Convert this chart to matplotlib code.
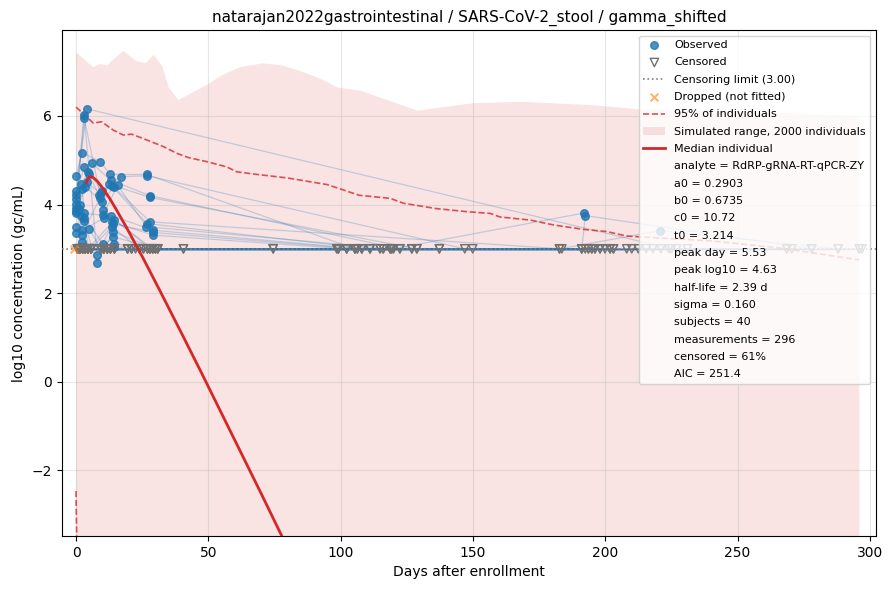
import numpy as np
import matplotlib
matplotlib.use("Agg")
import matplotlib.pyplot as plt

LOD = 3.0

# per-subject visits: day and log10 value (None = censored, drawn at the limit)
subj_days = [
    [0, 4.2, 225, 297],
    [0, 3.0, 8.0, 14.5, 99],
    [0, 3.1, 10.3, 28, 120, 192],
    [0, 2.3, 9.1, 13.0, 26.8, 105.4],
    [0, 3.1, 6.0, 13.2, 28, 122.4],
    [1.9, 4.6, 9.8, 17, 27, 146.9, 201.8],
    [0, 4.8, 8.8, 12.6, 28, 128.8, 193.6],
    [0, 4.0, 9.5, 13.5, 26.8, 111.1],
    [0, 3.5, 10.0, 14.2, 28, 183.6, 194.9],
    [0, 3.1, 10.3, 15.7, 26.6, 118.7],
    [0, 2.3, 10.4, 13.3, 29.2, 108],
    [1.0, 2.3, 9.0, 13.7, 29.2, 102.3, 198],
    [1.5, 3.1, 10.1, 14.0, 29.0, 106.3, 196.1],
    [2.0, 3.0, 7.9, 14.1, 30, 99.1],
    [2.3, 5.0, 9.4, 14.1, 30.9, 114.9],
    [2.3, 4.5, 10.5, 14.3, 27, 119.3, 203.1],
    [0.6, 3.5, 11.8, 14.5, 28, 137.3],
    [0.6, 5.7, 13.5, 24, 74.5, 149.9, 270.5],
    [1.5, 4.5, 14.5, 29, 126.9, 191.1, 192.5, 278],
    [0.6, 3.5, 9.4, 19.5, 40.6, 98.5, 182.7, 220.7, 288],
    [0.6, 5.7, 10.5, 21, 99.1, 191.1],
    [1.5, 4.5, 11.8, 24, 102.3, 192.4],
    [2.5, 5.7, 13, 25.5, 105.4, 193.6],
    [0.6, 3.5, 9.4, 27, 106.3, 194.9, 268.6],
    [1.5, 4.5, 10.5, 28, 108, 196.1],
    [2.5, 5.7, 11.8, 29, 111.1, 198, 296],
    [0.6, 3.5, 13, 30, 114.9, 199.9],
    [1.5, 4.5, 14.5, 30.9, 116.1, 201.8],
    [2.5, 5.7, 9.4, 19.5, 118.7, 203.1, 288],
    [0.6, 3.5, 10.5, 21, 119.3, 208.1],
    [1.5, 4.5, 11.8, 22.5, 122.4, 210],
    [2.5, 5.7, 13, 24, 126.9, 212.5],
    [0.6, 3.5, 14.5, 25.5, 128.8, 215.5, 278],
    [1.5, 4.5, 9.4, 27, 137.3, 218],
    [2.5, 5.7, 10.5, 28, 99.1, 221],
    [0.6, 3.5, 11.8, 29, 102.3, 224],
    [1.5, 4.5, 13, 30, 105.4, 227],
    [2.5, 5.7, 14.5, 30.9, 108, 231],
    [0.6, 3.5, 19.5, 40.6, 111.1, 182.7, 268.6],
    [1.5, 4.5, 21, 74.5, 116.1, 191.1, 296],
]
N = None
subj_vals = [
    [4.30, 6.16, N, N],
    [4.02, 6.03, 2.86, N, N],
    [3.85, 5.95, 3.88, N, N, 3.81],
    [4.64, 5.17, 4.97, 4.68, 4.68, N],
    [4.22, 4.85, 4.93, 4.55, 4.20, N],
    [4.46, 4.74, 4.30, 4.63, 4.65, N, N],
    [4.12, 4.68, 4.21, 4.46, 4.16, N, N],
    [3.93, 4.50, 4.25, 4.42, 3.57, N],
    [3.80, 4.40, 4.06, 4.40, 3.61, N, N],
    [3.50, 3.80, 3.76, 4.44, 3.50, N],
    [3.35, 3.42, 3.69, 3.75, 3.42, N],
    [3.90, 3.31, 4.15, 3.60, 3.31, N, N],
    [4.00, 3.70, 3.12, 3.57, 3.37, N, N],
    [3.75, 3.62, 2.67, 3.39, N, N],
    [3.16, 3.45, N, 3.27, N, N],
    [4.35, N, N, 3.12, N, N, N],
    [N, N, N, 3.05, N, N],
    [N, N, 3.50, N, N, N, N],
    [N, N, 3.65, N, N, N, 3.75, N],
    [N, N, N, N, N, N, N, 3.41, N],
    [N] * 6, [N] * 6, [N] * 6, [N] * 7, [N] * 6, [N] * 7, [N] * 6, [N] * 6,
    [N] * 7, [N] * 6, [N] * 6, [N] * 6, [N] * 7, [N] * 6, [N] * 6, [N] * 6,
    [N] * 6, [N] * 6, [N] * 7, [N] * 7,
]

dropped_day = [-0.7]
dropped_val = [3.0]

# simulated envelope (upper edge) and 95% band
sim_day = [0, 0.5, 6.5, 9, 12, 13.5, 18, 22.4, 26.2, 29.3, 32.6, 35, 38.7, 50, 55, 62,
           70.6, 78, 84.5, 92, 99, 107.6, 129, 150, 168.5, 196, 213, 250, 296]
sim_upper = [7.42, 7.42, 7.10, 7.17, 7.15, 7.25, 7.47, 7.25, 7.19, 7.38, 7.13, 6.65, 6.36,
             6.72, 6.92, 7.10, 7.19, 7.14, 7.02, 6.85, 6.64, 6.57, 6.12, 6.29, 6.32, 6.24,
             6.15, 6.10, 6.00]
sim_lower = [-40] * len(sim_day)

hi95_day = [0, 3.4, 6.5, 9.7, 14.1, 17.9, 21, 26.7, 33, 38, 42.5, 49.4, 57, 60.7, 67, 80,
            95, 101, 107, 118.7, 123.7, 136, 147.6, 156.5, 160.2, 171.6, 180.4, 191.7,
            200.6, 208, 213, 240, 266, 276, 296]
hi95_val = [6.20, 6.02, 5.84, 5.87, 5.68, 5.57, 5.59, 5.46, 5.31, 5.16, 5.06, 4.97, 4.85,
            4.74, 4.69, 4.60, 4.45, 4.33, 4.21, 4.14, 4.03, 3.91, 3.84, 3.80, 3.72, 3.65,
            3.54, 3.44, 3.39, 3.29, 3.27, 3.18, 3.02, 2.93, 2.75]
lo95_day = [0, 0.99, 5, 50, 296]
lo95_val = [-2.47, -6.5, -14.0, -40.0, -60.0]

med_day = [3.96, 4.5, 5.0, 5.53, 6.5, 8, 10, 12.6, 15, 19, 25, 32, 40, 48, 60, 70, 80]
med_val = [4.50, 4.59, 4.62, 4.63, 4.61, 4.53, 4.38, 4.15, 3.91, 3.49, 2.83, 2.02, 1.08,
           0.13, -1.32, -2.53, -3.76]

fit_info = [
    "analyte = RdRP-gRNA-RT-qPCR-ZY",
    "a0 = 0.2903",
    "b0 = 0.6735",
    "c0 = 10.72",
    "t0 = 3.214",
    "peak day = 5.53",
    "peak log10 = 4.63",
    "half-life = 2.39 d",
    "sigma = 0.160",
    "subjects = 40",
    "measurements = 296",
    "censored = 61%",
    "AIC = 251.4",
]

fig, ax = plt.subplots(figsize=(8.88, 5.9), dpi=100)
fig.subplots_adjust(left=0.0698, right=0.9865, top=0.949, bottom=0.0915)

red = "#d62728"
blue = "#1f77b4"

ax.fill_between(sim_day, sim_lower, sim_upper, color=red, alpha=0.13, lw=0,
                label="Simulated range, 2000 individuals", zorder=1)

obs_x, obs_y, cen_x = [], [], []
for days, vals in zip(subj_days, subj_vals):
    ys = [LOD if v is None else v for v in vals]
    ax.plot(days, ys, color=blue, alpha=0.25, lw=0.9, zorder=2)
    for d, v in zip(days, vals):
        if v is None:
            cen_x.append(d)
        else:
            obs_x.append(d)
            obs_y.append(v)

ax.scatter(obs_x, obs_y, s=30, color=blue, alpha=0.8, zorder=4, label="Observed")
ax.scatter(cen_x, [LOD] * len(cen_x), s=36, marker="v", facecolors="none",
           edgecolors="#707070", lw=1.0, zorder=4, label="Censored")
ax.axhline(LOD, color="gray", ls=":", lw=1.2, zorder=3, label=f"Censoring limit ({LOD:.2f})")
ax.scatter(dropped_day, dropped_val, marker="x", s=30, color="#ff7f0e", alpha=0.6,
           zorder=4, label="Dropped (not fitted)")
ax.plot(hi95_day, hi95_val, color=red, ls="--", lw=1.2, alpha=0.8, zorder=3,
        label="95% of individuals")
ax.plot(lo95_day, lo95_val, color=red, ls="--", lw=1.2, alpha=0.8, zorder=3)
ax.plot(med_day, med_val, color=red, lw=2, zorder=5, label="Median individual")

for line in fit_info:
    ax.plot([], [], " ", label=line)

handles, labels = ax.get_legend_handles_labels()
order = ["Observed", "Censored", f"Censoring limit ({LOD:.2f})", "Dropped (not fitted)",
         "95% of individuals", "Simulated range, 2000 individuals", "Median individual"] + fit_info
lookup = dict(zip(labels, handles))
ax.legend([lookup[k] for k in order], order, loc="upper right", fontsize=8,
          labelspacing=0.66)

ax.set_xlim(-5.3, 302.3)
ax.set_ylim(-3.485, 7.94)
ax.grid(alpha=0.3)
ax.set_xlabel("Days after enrollment")
ax.set_ylabel("log10 concentration (gc/mL)")
ax.set_title("natarajan2022gastrointestinal / SARS-CoV-2_stool / gamma_shifted", fontsize=11)

fig.savefig("out.png")
